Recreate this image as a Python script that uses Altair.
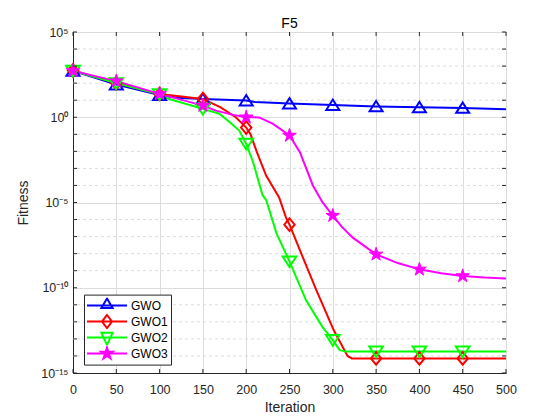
import altair as alt
import pandas as pd

# ---------------- data ----------------
names = ["GWO", "GWO1", "GWO2", "GWO3"]
colors = ["#0000ff", "#ff0000", "#00ff00", "#ff00ff"]

gwo_iter = [0, 50, 100, 120, 150, 200, 210, 250, 300, 350, 400, 450, 500]
gwo_fit = [525, 83, 20, 14, 11.7, 9.5, 7.9, 6.3, 5.2, 4.3, 3.8, 3.5, 2.9]

gwo1_iter = [0, 50, 100, 150, 170, 188, 200, 205, 212, 223, 238, 246, 250,
             262, 281, 301, 317, 322, 350, 400, 450, 500]
gwo1_fit = [560, 100, 23.4, 11.7, 3.9, 1.0, 0.25, 0.1, 0.01, 3.8e-4, 2.0e-5,
            1.3e-6, 5.0e-7, 1.6e-8, 7.2e-11, 3.3e-13, 1.0e-14, 7.2e-15,
            7.2e-15, 7.2e-15, 7.2e-15, 7.2e-15]

gwo2_iter = [0, 50, 100, 111, 150, 169, 181, 192, 200, 208, 219, 223, 231,
             235, 250, 269, 288, 300, 308, 315, 350, 400, 450, 500]
gwo2_fit = [525, 100, 22.4, 11.7, 3.1, 1.6, 0.51, 0.166, 0.0275, 2.3e-3,
            2.6e-5, 1.4e-5, 7.1e-7, 1.55e-7, 3.5e-9, 1.9e-11, 5.1e-13,
            8.5e-14, 2.2e-14, 1.8e-14, 1.8e-14, 1.8e-14, 1.8e-14, 1.8e-14]

gwo3_iter = [0, 50, 100, 150, 165, 185, 200, 215, 231, 250, 262, 277, 288,
             300, 310, 323, 350, 375, 400, 425, 450, 475, 500]
gwo3_fit = [525, 132, 23.4, 4.8, 2.45, 1.38, 1.0, 0.98, 0.41, 0.085, 8.9e-3,
            1.0e-4, 1.05e-5, 1.7e-6, 4.0e-7, 8.7e-8, 9.1e-9, 2.8e-9, 1.2e-9,
            7.0e-10, 4.9e-10, 4.0e-10, 3.5e-10]

x_ticks = [0, 50, 100, 150, 200, 250, 300, 350, 400, 450, 500]
y_major = [1e-15, 1e-10, 1e-5, 1e0, 1e5]
y_minor = [1e-14, 1e-13, 1e-12, 1e-11, 1e-9, 1e-8, 1e-7, 1e-6,
           1e-4, 1e-3, 1e-2, 1e-1, 1e1, 1e2, 1e3, 1e4]

frames = []
for nm, its, fits in zip(names, [gwo_iter, gwo1_iter, gwo2_iter, gwo3_iter],
                         [gwo_fit, gwo1_fit, gwo2_fit, gwo3_fit]):
    frames.append(pd.DataFrame({"iter": its, "fitness": fits, "series": nm}))
df = pd.concat(frames, ignore_index=True)

minor_df = pd.DataFrame({"v": y_minor})
xt_df = pd.DataFrame({"v": x_ticks})
yt_df = pd.DataFrame({"v": y_major + y_minor})

# ---------------- styling ----------------
W, H = 433, 341
FONT = "Liberation Sans"
AX = "#262626"
GRID = "#dcdcdc"

x_scale = alt.Scale(domain=[0, 500], nice=False, zero=False)
y_scale = alt.Scale(type="log", domain=[1e-15, 1e5], nice=False)
color_scale = alt.Scale(domain=names, range=colors)

star = ("M0,-1.1L0.247,-0.34L1.046,-0.34L0.4,0.13L0.647,0.89L0,0.42"
        "L-0.647,0.89L-0.4,0.13L-1.046,-0.34L-0.247,-0.34Z")
plot_shapes = [
    "M0,-0.85L1,0.75L-1,0.75Z",
    "M0,-0.97L0.8,0L0,0.97L-0.8,0Z",
    "M0,0.87L1.05,-0.77L-1.05,-0.77Z",
    star,
]
legend_shapes = [
    "M-1.167,0H5.5M2.167,-1.17L3.1,0.39L1.23,0.39Z",
    "M-1.167,0H5.5M2.167,-1.1L3.0,0L2.167,1.1L1.333,0Z",
    "M-1.167,0H5.5M2.167,1.2L3.1,-0.8L1.23,-0.8Z",
    "M-1.167,0H5.5M2.167,-1L2.392,-0.309L3.118,-0.309L2.53,0.118L2.755,0.809"
    "L2.167,0.382L1.579,0.809L1.804,0.118L1.216,-0.309L1.942,-0.309Z",
]
fill_range = ["transparent", "transparent", "transparent", "#ff00ff"]

e = "round(log(datum.value)/LN10)"
label_expr = (f"'10' + ({e} == 5 ? '⁵' : {e} == 0 ? '⁰' : {e} == -5 ? '⁻⁵' : "
              f"{e} == -10 ? '⁻¹⁰' : '⁻¹⁵')")

x_main = alt.X("iter:Q", scale=x_scale,
               axis=alt.Axis(values=x_ticks, title="Iteration", grid=True,
                             tickSize=0, labelPadding=10,
                             titlePadding=5, labelFlush=False, format="d"))
y_main = alt.Y("fitness:Q", scale=y_scale,
               axis=alt.Axis(values=y_major, title="Fitness", grid=True,
                             tickSize=0, labelExpr=label_expr,
                             labelPadding=5, titlePadding=10))
# other layers share the scales and leave the axis to the main layer
x_plain = alt.X("iter:Q", scale=x_scale)
y_plain = alt.Y("fitness:Q", scale=y_scale)

minor_grid = alt.Chart(minor_df).mark_rule(
    color=GRID, strokeWidth=1, strokeDash=[3, 3]
).encode(y=alt.Y("v:Q", scale=y_scale))

lines = alt.Chart(df).mark_line(strokeWidth=2).encode(
    x=x_main, y=y_main,
    color=alt.Color("series:N", scale=color_scale, legend=None),
    detail="series:N",
)

marker_filter = "datum.iter % 50 == 0 && datum.iter < 500"

hollow = alt.Chart(df).transform_filter(
    marker_filter + " && datum.series != 'GWO3'"
).mark_point(filled=False, strokeWidth=2, size=169, opacity=1).encode(
    x=x_plain, y=y_plain,
    color=alt.Color("series:N", scale=color_scale, legend=None),
    shape=alt.Shape("series:N", scale=alt.Scale(domain=names, range=plot_shapes), legend=None),
)

stars = alt.Chart(df).transform_filter(
    marker_filter + " && datum.series == 'GWO3'"
).mark_point(filled=True, size=169, opacity=1, stroke="#ff00ff", strokeWidth=1).encode(
    x=x_plain, y=y_plain,
    color=alt.Color("series:N", scale=color_scale, legend=None),
    shape=alt.Shape("series:N", scale=alt.Scale(domain=names, range=plot_shapes), legend=None),
)

legend_layer = alt.Chart(df).transform_filter("datum.iter < 0").mark_point(
    filled=False, strokeWidth=2, opacity=1
).encode(
    x=x_plain, y=y_plain,
    color=alt.Color("series:N", scale=color_scale, legend=alt.Legend(title=None)),
    shape=alt.Shape("series:N", scale=alt.Scale(domain=names, range=legend_shapes),
                    legend=alt.Legend(title=None)),
    fill=alt.Fill("series:N", scale=alt.Scale(domain=names, range=fill_range),
                  legend=alt.Legend(title=None)),
)

tick_bottom = alt.Chart(xt_df).mark_rule(color=AX, strokeWidth=1).encode(
    x=alt.X("v:Q", scale=x_scale), y=alt.value(H), y2=alt.value(H - 4))
tick_top = alt.Chart(xt_df).mark_rule(color=AX, strokeWidth=1).encode(
    x=alt.X("v:Q", scale=x_scale), y=alt.value(0), y2=alt.value(4))
tick_left = alt.Chart(yt_df).mark_rule(color=AX, strokeWidth=1).encode(
    y=alt.Y("v:Q", scale=y_scale), x=alt.value(0), x2=alt.value(4))
tick_right = alt.Chart(yt_df).mark_rule(color=AX, strokeWidth=1).encode(
    y=alt.Y("v:Q", scale=y_scale), x=alt.value(W), x2=alt.value(W - 4))

chart = alt.layer(
    minor_grid, lines, hollow, stars, tick_bottom, tick_top, tick_left,
    tick_right, legend_layer,
).resolve_scale(
    color="independent", shape="independent", fill="independent"
).properties(
    width=W, height=H,
    autosize="none",
    padding={"left": 65, "top": 24, "right": 30, "bottom": 45},
    title=alt.TitleParams("F5", fontSize=14, fontWeight="normal", font=FONT,
                          color="#000000", offset=2, dy=18,
                          baseline="alphabetic", anchor="middle",
                          frame="group"),
).configure_axis(
    labelFont=FONT, titleFont=FONT, labelFontSize=12.5, titleFontSize=14,
    titleFontWeight="normal", labelColor=AX, titleColor=AX,
    domainColor=AX, domainWidth=1, gridColor=GRID, gridWidth=1, gridOpacity=1,
).configure_legend(
    orient="none", legendX=11, legendY=262.6, padding=3,
    strokeColor=AX, fillColor="#ffffff", labelFont=FONT, labelFontSize=12,
    labelColor="#000000", symbolSize=144, symbolStrokeWidth=2,
    labelOffset=30, rowPadding=0, clipHeight=16, symbolOpacity=1,
    cornerRadius=0,
).configure_view(stroke=AX, strokeWidth=1)

chart.save("out.html", embed_options={"renderer": "svg", "actions": False})
